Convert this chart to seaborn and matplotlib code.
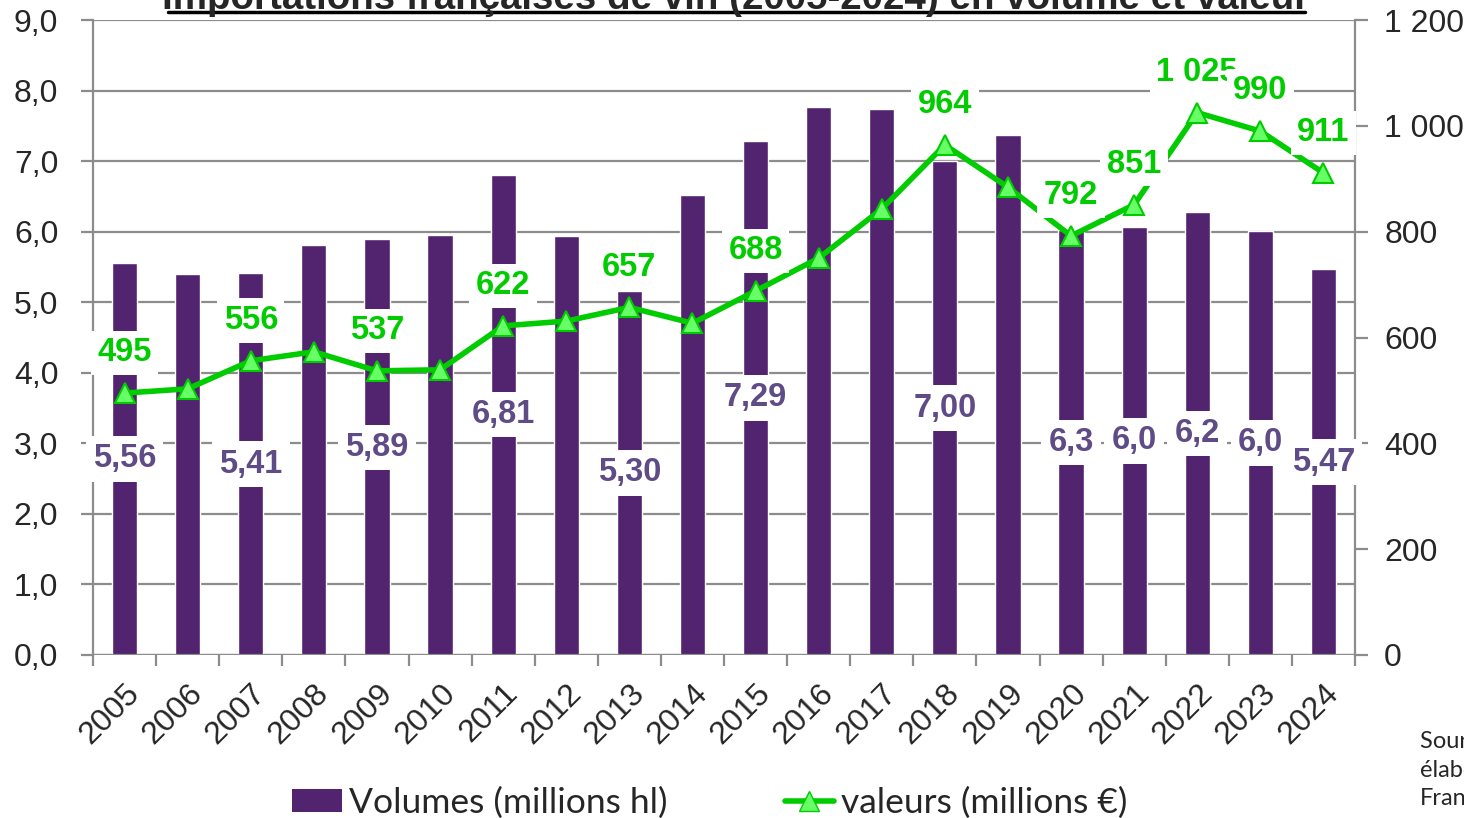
import numpy as np
import pandas as pd
import matplotlib
matplotlib.use("Agg")
import matplotlib.pyplot as plt
import seaborn as sns
from matplotlib.lines import Line2D
from matplotlib.patches import Patch
from matplotlib.ticker import FuncFormatter, MultipleLocator

# Données
annees = [str(a) for a in range(2005, 2025)]
volumes = [5.56, 5.40, 5.41, 5.81, 5.89, 5.95, 6.81, 5.94, 5.16, 6.52,
           7.29, 7.77, 7.74, 7.00, 7.37, 6.02, 6.07, 6.28, 6.01, 5.47]
valeurs = [495, 503, 556, 573, 537, 539, 622, 631, 657, 627,
           688, 750, 843, 964, 884, 792, 851, 1025, 990, 911]
etiq_volumes = ["5,56", "", "5,41", "", "5,89", "", "6,81", "", "5,30", "",
                "7,29", "", "", "7,00", "", "6,3", "6,0", "6,2", "6,0", "5,47"]
etiq_valeurs = ["495", "", "556", "", "537", "", "622", "", "657", "",
                "688", "", "", "964", "", "792", "851", "1 025", "990", "911"]

violet = "#52236F"
violet_txt = "#5F4B85"
vert = "#00CC00"
gris = "#8C8C8C"

df = pd.DataFrame({"annee": annees, "volume": volumes, "valeur": valeurs,
                   "pos": np.arange(len(annees))})

sns.set_style("white")
plt.rcParams["font.family"] = ["Liberation Sans", "DejaVu Sans"]

fig = plt.figure(figsize=(14.64, 8.18), dpi=100)
ax = fig.add_axes([93 / 1464, 1 - 655 / 818, (1355 - 93) / 1464, (655 - 20) / 818])

sns.barplot(data=df, x="annee", y="volume", color=violet, width=0.4,
            saturation=1, ax=ax, zorder=2)
ax.set_ylim(0, 9)
ax.set_xlim(-0.5, len(annees) - 0.5)
ax.yaxis.set_major_locator(MultipleLocator(1))
ax.yaxis.set_major_formatter(FuncFormatter(lambda v, p: f"{v:.1f}".replace(".", ",")))
ax.grid(axis="y", color=gris, linewidth=1.6)
ax.set_axisbelow(True)
ax.set_xlabel("")
ax.set_ylabel("")
for s in ["top", "right", "bottom"]:
    ax.spines[s].set_visible(False)
ax.spines["left"].set_color(gris)
ax.spines["left"].set_linewidth(1.6)
ax.axhline(0, color=gris, linewidth=1.6, zorder=3)
ax.tick_params(axis="y", which="major", left=True, length=9, width=1.6,
               color=gris, pad=16, labelsize=23)
ax.set_xticks(np.arange(len(annees)))
ax.set_xticklabels(annees, rotation=45, ha="right", rotation_mode="anchor")
ax.set_xticks(np.arange(len(annees) + 1) - 0.5, minor=True)
ax.tick_params(axis="x", which="major", length=0, pad=17, labelsize=23)
ax.tick_params(axis="x", which="minor", bottom=True, length=8, width=1.6, color=gris)

ax2 = ax.twinx()
sns.lineplot(data=df, x="pos", y="valeur", color=vert, linewidth=4, marker="^",
             markersize=14, markerfacecolor="#66FF66", markeredgecolor=vert,
             markeredgewidth=1.5, ax=ax2, zorder=3)
ax2.set_ylim(0, 1200)
ax2.set_xlim(-0.5, len(annees) - 0.5)
ax2.yaxis.set_major_locator(MultipleLocator(200))
ax2.yaxis.set_major_formatter(FuncFormatter(lambda v, p: f"{int(v):,}".replace(",", " ")))
ax2.set_xlabel("")
ax2.set_ylabel("")
for s in ["top", "left", "bottom"]:
    ax2.spines[s].set_visible(False)
ax2.spines["right"].set_color(gris)
ax2.spines["right"].set_linewidth(1.6)
ax2.tick_params(axis="y", right=True, length=9, width=1.6, color=gris, pad=12,
                labelsize=23)

# étiquettes des volumes (au milieu des barres)
for i, (h, t) in enumerate(zip(volumes, etiq_volumes)):
    if t:
        ax2.text(i, h / 2, t, transform=ax.transData, ha="center", va="center",
                 fontsize=23.5, fontweight="bold", color=violet_txt, zorder=6,
                 bbox=dict(boxstyle="square,pad=0.22", fc="white", ec="none"))

# étiquettes des valeurs
for i, (v, t) in enumerate(zip(valeurs, etiq_valeurs)):
    if t:
        ax2.annotate(t, (i, v), xytext=(0, 29), textcoords="offset points",
                     ha="center", va="center", fontsize=23.5, fontweight="bold",
                     color=vert, zorder=7, annotation_clip=False,
                     bbox=dict(boxstyle="square,pad=0.2", fc="white", ec="none"))

# titre (coupé en haut)
fig.text(736 / 1464, 1 - 9 / 818,
         "Importations françaises de vin (2005-2024) en volume et valeur",
         ha="center", va="baseline", fontsize=27.7, fontweight="bold")
fig.add_artist(Line2D([168 / 1464, 1305 / 1464], [1 - 12 / 818, 1 - 12 / 818],
                      color="black", linewidth=2.5))

# légende
handles = [Patch(facecolor=violet, edgecolor="none"),
           Line2D([0], [0], color=vert, linewidth=4, marker="^", markersize=14,
                  markerfacecolor="#66FF66", markeredgecolor=vert)]
fig.legend(handles, ["Volumes (millions hl)", "valeurs (millions €)"],
           loc="center", bbox_to_anchor=(710 / 1464, 1 - 803 / 818), ncol=2,
           frameon=False, prop={"family": "Lato", "size": 25.5},
           handlelength=1.4, handleheight=0.6, handletextpad=0.2,
           columnspacing=3.3)

# source (coupée à droite)
fig.text(1420 / 1464, 1 - 731 / 818,
         "Source : Douanes françaises,\nélaboration\nFranceAgriMer",
         ha="left", va="top", fontsize=17, family="Lato", linespacing=1.45)

fig.savefig("out.png", dpi=100)
